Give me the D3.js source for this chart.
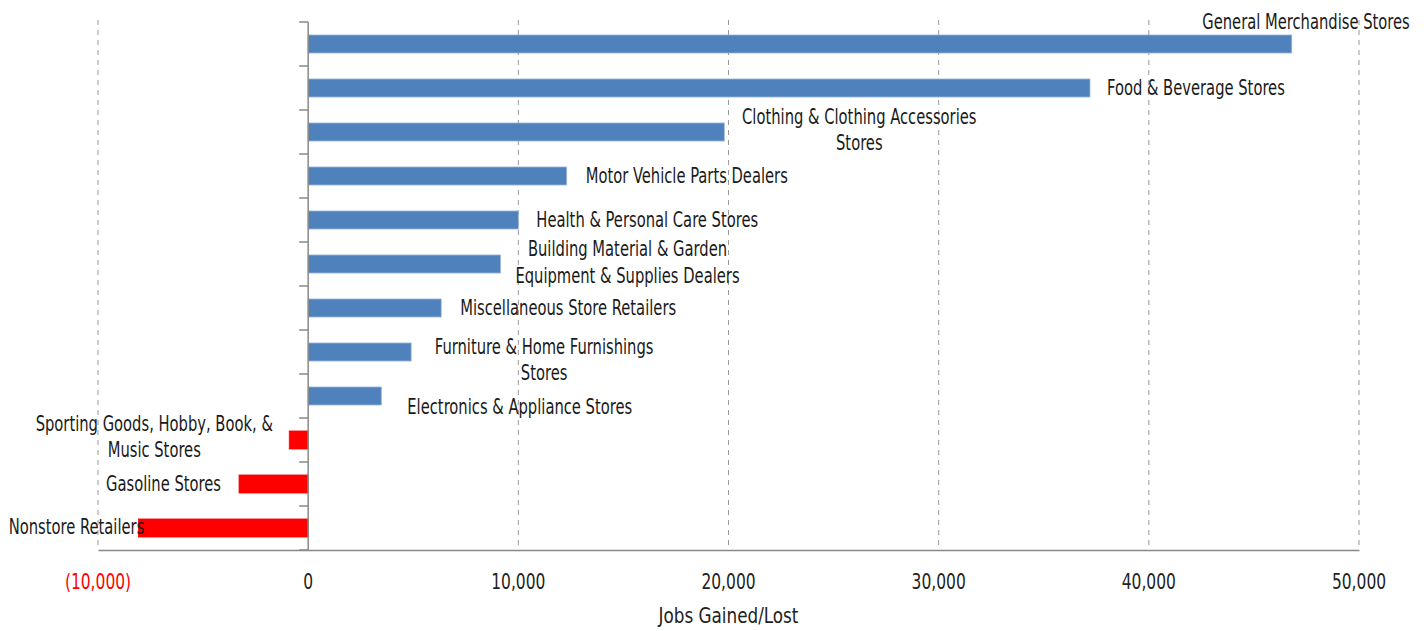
<!DOCTYPE html>
<html><head><meta charset="utf-8">
<script src="https://cdn.jsdelivr.net/npm/d3@7"></script>
<style>
body{margin:0;background:#fff;}
text{font-family:"DejaVu Sans Condensed","DejaVu Sans",sans-serif;}
</style></head>
<body><svg id="c" width="1426" height="631"></svg>
<script>
const categories = ["General Merchandise Stores","Food & Beverage Stores","Clothing & Clothing Accessories Stores","Motor Vehicle Parts Dealers","Health & Personal Care Stores","Building Material & Garden Equipment & Supplies Dealers","Miscellaneous Store Retailers","Furniture & Home Furnishings Stores","Electronics & Appliance Stores","Sporting Goods, Hobby, Book, & Music Stores","Gasoline Stores","Nonstore Retailers"];
const jobs = [46800, 37200, 19800, 12300, 10000, 9150, 6330, 4900, 3480, -900, -3290, -8080];
const tickValues = [-10000, 0, 10000, 20000, 30000, 40000, 50000];
const tickLabels = ["(10,000)","0","10,000","20,000","30,000","40,000","50,000"];
const labelLines = [["General Merchandise Stores"],["Food & Beverage Stores"],["Clothing & Clothing Accessories","Stores"],["Motor Vehicle Parts Dealers"],["Health & Personal Care Stores"],["Building Material & Garden","Equipment & Supplies Dealers"],["Miscellaneous Store Retailers"],["Furniture & Home Furnishings","Stores"],["Electronics & Appliance Stores"],["Sporting Goods, Hobby, Book, &","Music Stores"],["Gasoline Stores"],["Nonstore Retailers"]];
// label layout: anchor, dx from bar end (px), dy of each line from bar centre (px)
const labelLayout = [
 {a:"end",dx:118,dy:[-22]},{a:"start",dx:17,dy:[0]},{a:"middle",dx:135,dy:[-15,11]},
 {a:"start",dx:19,dy:[0]},{a:"start",dx:18,dy:[0]},{a:"middle",dx:127,dy:[-15,12]},
 {a:"start",dx:19,dy:[0]},{a:"middle",dx:133,dy:[-5,21]},{a:"start",dx:26,dy:[11]},
 {a:"middle",dx:-135,dy:[-16,10]},{a:"end",dx:-18,dy:[0]},{a:"end",dx:6,dy:[-1]}];

const SX = 0.78, FS = 21;
const svg = d3.select("#c");
const L=98,R=1359,T=22,B=550;
const x = d3.scaleLinear().domain([-10000,50000]).range([L,R]);
const y = d3.scaleBand().domain(categories).range([T,B]).paddingInner(0.59).paddingOuter(0.295);

function txt(g, px, py, s, anchor, fill, sx){
  return g.append("text").attr("transform",`translate(${px},${py}) scale(${sx||SX},1)`)
    .attr("dy","0.35em").attr("text-anchor",anchor).attr("font-size",FS).attr("fill",fill).text(s);
}

// gridlines
svg.append("g").selectAll("line").data(tickValues.filter(v=>v!==0)).join("line")
  .attr("x1",d=>x(d)).attr("x2",d=>x(d)).attr("y1",T-2).attr("y2",B)
  .attr("stroke","#999").attr("stroke-dasharray","5,5").attr("stroke-width",1);

// x axis
const xa = svg.append("g").attr("transform",`translate(0,${B})`)
  .call(d3.axisBottom(x).tickValues(tickValues).tickSize(0).tickFormat(""));
xa.select(".domain").attr("stroke","#888").attr("stroke-width",1.5);
const xl = svg.append("g");
tickValues.forEach((v,i)=>txt(xl, x(v), B+32, tickLabels[i], "middle", v<0?"#ff0000":"#222", 0.82));

// bars
svg.append("g").selectAll("rect").data(categories).join("rect")
  .attr("x",(d,i)=>x(Math.min(0,jobs[i])))
  .attr("width",(d,i)=>Math.abs(x(jobs[i])-x(0)))
  .attr("y",d=>y(d)).attr("height",y.bandwidth())
  .attr("fill",(d,i)=>jobs[i]<0?"#ff0000":"#4f81bd")
  .attr("stroke",(d,i)=>jobs[i]<0?"#ff0000":"#9bb6db").attr("stroke-width",0.8);

// y axis
const ya = svg.append("g").attr("transform",`translate(${x(0)},0)`);
ya.append("line").attr("x1",0).attr("x2",0).attr("y1",T).attr("y2",B).attr("stroke","#888").attr("stroke-width",1.5);
const bounds = d3.range(categories.length+1).map(i=>T+i*y.step());
ya.selectAll("line.t").data(bounds).join("line").attr("class","t")
  .attr("x1",-9).attr("x2",0).attr("y1",d=>d).attr("y2",d=>d).attr("stroke","#888").attr("stroke-width",1.5);

// labels
const lg = svg.append("g");
categories.forEach((c,i)=>{
  const lay = labelLayout[i];
  const cx = x(jobs[i])+lay.dx, cy = y(c)+y.bandwidth()/2;
  labelLines[i].forEach((ln,j)=>txt(lg, cx, cy+lay.dy[j], ln, lay.a, "#1a1a1a"));
});

txt(svg, x(20000), 616, "Jobs Gained/Lost", "middle", "#222", 0.89);
</script></body></html>
